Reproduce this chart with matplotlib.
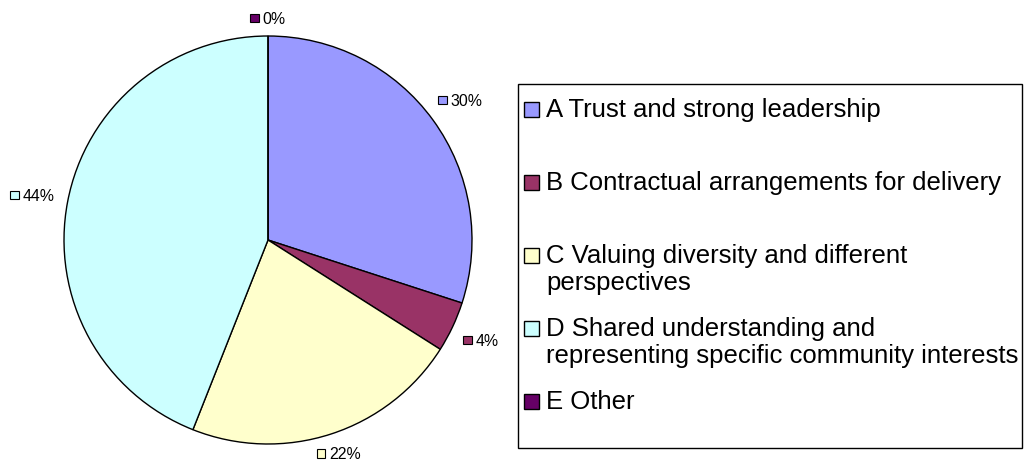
import matplotlib
matplotlib.use("Agg")
import matplotlib.pyplot as plt
from matplotlib.patches import Rectangle
import numpy as np

categories = ["A Trust and strong leadership",
              "B Contractual arrangements for delivery",
              "C Valuing diversity and different\nperspectives",
              "D Shared understanding and\nrepresenting specific community interests",
              "E Other"]
values = [30, 4, 22, 44, 0]
pct_labels = ["30%", "4%", "22%", "44%", "0%"]
colors = ["#9999FF", "#993366", "#FFFFCC", "#CCFFFF", "#660066"]

plt.rcParams['font.family'] = ['Liberation Sans', 'DejaVu Sans']

W, H = 1031, 464
fig = plt.figure(figsize=(W / 100, H / 100), dpi=100)
ax = fig.add_axes([0, 0, 1, 1])

cx, cy, r = 268, H - 241, 204
ax.pie(values, colors=colors, startangle=90, counterclock=False,
       center=(cx, cy), radius=r,
       wedgeprops=dict(edgecolor="black", linewidth=1.0))
ax.set_xlim(0, W)
ax.set_ylim(0, H)
ax.set_aspect("equal")
ax.axis("off")

# percentage labels
fig.canvas.draw()
renderer = fig.canvas.get_renderer()
total = float(sum(values))
cum = 0.0
lab_fs = 11.4
sq = 8.5
gap = 4
for v, lab, col in zip(values, pct_labels, colors):
    mid = 90 - 360 * (cum + v / 2) / total
    cum += v
    t = ax.text(0, 0, lab, fontsize=lab_fs, ha="left", va="center")
    bb = t.get_window_extent(renderer)
    tw, th = bb.width, 10
    w = sq + gap + tw
    a = np.deg2rad(mid)
    d = r + 13 + (w / 2) * abs(np.cos(a)) + (th / 2) * abs(np.sin(a))
    lx = cx + d * np.cos(a)
    ly = cy + d * np.sin(a)
    # keep the label fully inside the figure
    ly = min(max(ly, bb.height / 2 + 2), H - bb.height / 2 - 2)
    left = lx - w / 2
    ax.add_patch(Rectangle((left, ly - sq / 2), sq, sq, facecolor=col,
                           edgecolor="black", linewidth=0.8))
    t.set_position((left + sq + gap, ly - 0.5))

# legend box
lx0, lx1, ly0, ly1 = 518, 1022, H - 449, H - 85
ax.add_patch(Rectangle((lx0, ly0), lx1 - lx0, ly1 - ly0, facecolor="white",
                       edgecolor="black", linewidth=1.0))
leg_fs = 18.5
first_y = 110
step = 73
line_h = 27
for i, (cat, col) in enumerate(zip(categories, colors)):
    yy = H - (first_y + i * step)
    ax.add_patch(Rectangle((524, yy - 7.5), 15, 15, facecolor=col,
                           edgecolor="black", linewidth=1.0))
    for j, line in enumerate(cat.split("\n")):
        ax.text(546, yy - j * line_h, line, fontsize=leg_fs, ha="left",
                va="center")

fig.savefig("out.png", dpi=100)
